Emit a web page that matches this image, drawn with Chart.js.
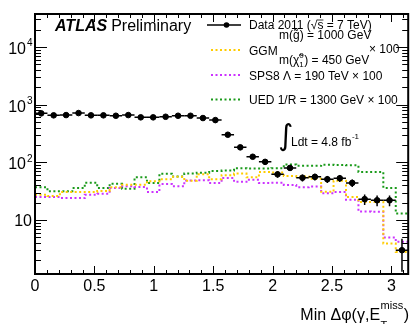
<!DOCTYPE html>
<html>
<head>
<meta charset="utf-8">
<script src="https://cdn.jsdelivr.net/npm/chart.js@4.4.1/dist/chart.umd.min.js"></script>
<style>
html, body { margin: 0; padding: 0; background: #fff; }
canvas { display: block; }
</style>
</head>
<body>
<canvas id="myChart" width="412" height="324"></canvas>
<script>
// 30 bins between 0 and pi
const nBins = 30;
const xMax = Math.PI;

const dataCounts = [707, 653, 660, 715, 653, 653, 642, 660, 603, 603,
                    617, 642, 642, 586, 540, 301, 182, 125, 102, 62,
                    80, 54, 56, 51, 53, 44, 23, 22, 22, 3];
const ggmValues = [27.4, 26, 30.5, 30.5, 30.5, 32, 37, 41, 41, 47,
                   51, 56, 48, 62, 51, 60, 64, 55, 68, 67,
                   58, 57, 52, 31, 48, 25, 20.5, 20.5, 3.9, 2.8];
const sps8Values = [25, 25, 24, 24, 27.4, 28.5, 35.8, 38.4, 37.2, 30.6,
                    42, 38.5, 48.5, 49, 44, 53.5, 46, 50, 44, 44.5,
                    40.5, 37, 38, 29, 30.5, 22.5, 14, 13.9, 5, 4.2];
const uedValues = [37, 31.4, 31.4, 35.8, 44.3, 35.8, 42.6, 35, 55, 43.8,
                   63.5, 57, 64, 66, 71, 72, 79, 78, 78, 79,
                   92, 87, 87, 91, 90, 89, 68, 68, 36, 13];

const xTicks = [0, 0.5, 1, 1.5, 2, 2.5, 3];
const xTickLabels = ["0", "0.5", "1", "1.5", "2", "2.5", "3"];
const yExponents = [1, 2, 3, 4];

const binWidth = xMax / nBins;
const dataPoints = dataCounts.map((v, i) => ({ x: (i + 0.5) * binWidth, y: v }));

function histPoints(values) {
    const pts = values.map((v, i) => ({ x: i * binWidth, y: v }));
    pts.push({ x: xMax, y: values[values.length - 1] });
    return pts;
}

const colGGM = "#ffcc00";
const colSPS8 = "#cc33ff";
const colUED = "#1a9a1a";
const FONT = "'Liberation Sans', Arial, Helvetica, sans-serif";

function histDataset(values, color) {
    return {
        data: histPoints(values),
        borderColor: color,
        borderWidth: 2,
        borderDash: [2, 2.5],
        stepped: true,
        pointRadius: 0,
        fill: false
    };
}

function txt(ctx, s, x, y, size, opts) {
    opts = opts || {};
    ctx.font = (opts.style || "") + " " + size + "px " + (opts.family || FONT);
    ctx.textAlign = opts.align || "left";
    ctx.textBaseline = "alphabetic";
    ctx.fillStyle = "#000";
    ctx.fillText(s, x, y);
    return ctx.measureText(s).width;
}

const atlasPlugin = {
    id: "atlas",
    afterDatasetsDraw(chart) {
        const ctx = chart.ctx;
        const xs = chart.scales.x, ys = chart.scales.y;
        // error bars
        ctx.save();
        ctx.strokeStyle = "#000";
        ctx.lineWidth = 1.5;
        dataCounts.forEach((v, i) => {
            const xc = xs.getPixelForValue((i + 0.5) * binWidth);
            const yc = ys.getPixelForValue(v);
            const e = Math.sqrt(v);
            ctx.beginPath();
            ctx.moveTo(xs.getPixelForValue(i * binWidth), yc);
            ctx.lineTo(xs.getPixelForValue((i + 1) * binWidth), yc);
            ctx.moveTo(xc, ys.getPixelForValue(v + e));
            ctx.lineTo(xc, Math.min(ys.getPixelForValue(Math.max(v - e, 1e-3)), chart.chartArea.bottom));
            ctx.stroke();
        });
        ctx.restore();
    },
    afterDraw(chart) {
        const ctx = chart.ctx;
        const a = chart.chartArea;
        const xs = chart.scales.x, ys = chart.scales.y;
        ctx.save();
        ctx.strokeStyle = "#000";
        ctx.lineWidth = 1;
        ctx.beginPath();
        // x ticks every 0.1, major every 0.5
        for (let k = 0; k * 0.1 <= xMax; k++) {
            const px = Math.round(xs.getPixelForValue(k * 0.1)) + 0.5;
            const len = k % 5 === 0 ? 8 : 4;
            ctx.moveTo(px, a.bottom); ctx.lineTo(px, a.bottom - len);
            ctx.moveTo(px, a.top); ctx.lineTo(px, a.top + len);
        }
        // y log ticks
        for (let d = 0; d <= 5; d++) {
            for (let m = 1; m <= 9; m++) {
                const v = m * Math.pow(10, d);
                if (v < ys.min || v > ys.max) continue;
                const py = Math.round(ys.getPixelForValue(v)) + 0.5;
                const len = m === 1 ? 12 : 6;
                ctx.moveTo(a.left, py); ctx.lineTo(a.left + len, py);
                ctx.moveTo(a.right, py); ctx.lineTo(a.right - len, py);
            }
        }
        ctx.stroke();
        // frame
        ctx.lineWidth = 2;
        ctx.strokeRect(a.left, a.top, a.right - a.left, a.bottom - a.top);

        // x tick labels
        xTicks.forEach((v, i) => {
            txt(ctx, xTickLabels[i], xs.getPixelForValue(v), 291, 16, { align: "center" });
        });
        // y tick labels
        yExponents.forEach(e => {
            const py = ys.getPixelForValue(Math.pow(10, e));
            if (e === 1) {
                txt(ctx, "10", 32, py + 5.5, 16, { align: "right" });
            } else {
                txt(ctx, "10", 26, py + 7, 16, { align: "right" });
                txt(ctx, String(e), 27, py - 0.5, 10);
            }
        });

        // x axis title
        ctx.font = "11px " + FONT;
        const wSup = ctx.measureText("miss").width;
        ctx.font = "16px " + FONT;
        const wPar = ctx.measureText(")").width;
        const wMain = ctx.measureText("Min \u0394\u03c6(\u03b3,E").width;
        const xEnd = 409;
        const x0 = xEnd - wPar - wSup - wMain - 1;
        txt(ctx, "Min \u0394\u03c6(\u03b3,E", x0, 319.5, 16);
        txt(ctx, "miss", x0 + wMain + 0.5, 309, 11);
        txt(ctx, "T", x0 + wMain + 0.5, 329, 11);
        txt(ctx, ")", xEnd - wPar, 319.5, 16);

        // ATLAS Preliminary
        const wA = txt(ctx, "ATLAS", 55, 31, 16, { style: "italic bold" });
        txt(ctx, "Preliminary", 55 + wA + 4, 31, 16);

        // legend: data
        ctx.lineWidth = 1.5;
        ctx.beginPath();
        ctx.moveTo(207, 25); ctx.lineTo(241, 25);
        ctx.stroke();
        ctx.beginPath();
        ctx.arc(226.5, 25, 2.8, 0, 2 * Math.PI);
        ctx.fillStyle = "#000";
        ctx.fill();
        let x = 249;
        x += txt(ctx, "Data 2011 (", x, 29, 12);
        x += txt(ctx, "\u221a", x, 29, 12);
        const ws = txt(ctx, "s", x, 29, 12);
        ctx.lineWidth = 0.8;
        ctx.beginPath();
        ctx.moveTo(x - 0.5, 20); ctx.lineTo(x + ws, 20);
        ctx.stroke();
        x += ws;
        txt(ctx, " = 7 TeV)", x, 29, 12);

        // legend: dotted lines
        [[colGGM, 50], [colSPS8, 75], [colUED, 99.5]].forEach(([c, y]) => {
            ctx.save();
            ctx.strokeStyle = c;
            ctx.lineWidth = 2;
            ctx.setLineDash([2, 2.5]);
            ctx.beginPath();
            ctx.moveTo(211, y); ctx.lineTo(241, y);
            ctx.stroke();
            ctx.restore();
        });
        txt(ctx, "GGM", 249, 55, 12);
        txt(ctx, "m(g\u0303) = 1000 GeV", 279, 39, 12);
        let xc = 279;
        xc += txt(ctx, "m(\u03c7\u0303", xc, 63.5, 12);
        txt(ctx, "0", xc, 58, 8);
        const w1 = txt(ctx, "1", xc, 66.5, 8);
        xc += w1 + 0.5;
        txt(ctx, ") = 450 GeV", xc, 63.5, 12);
        txt(ctx, "\u00d7 100", 369, 53, 12);
        txt(ctx, "SPS8 \u039b = 190 TeV \u00d7 100", 249, 79.5, 12);
        txt(ctx, "UED 1/R = 1300 GeV \u00d7 100", 249, 104, 12);

        // luminosity
        txt(ctx, "\u222b", 278, 145, 29, { family: "'DejaVu Sans', sans-serif" });
        const wl = txt(ctx, "Ldt = 4.8 fb", 291, 146, 12);
        txt(ctx, "-1", 291 + wl + 0.5, 139, 8);
        ctx.restore();
    }
};

new Chart("myChart", {
    type: "line",
    data: {
        datasets: [
            {
                data: dataPoints,
                showLine: false,
                pointRadius: 2.8,
                pointHoverRadius: 2.8,
                pointBackgroundColor: "#000",
                pointBorderColor: "#000",
                borderColor: "#000"
            },
            histDataset(ggmValues, colGGM),
            histDataset(sps8Values, colSPS8),
            histDataset(uedValues, colUED)
        ]
    },
    options: {
        responsive: false,
        animation: false,
        layout: { padding: { left: 35, right: 2, top: 14, bottom: 50 } },
        plugins: {
            legend: { display: false },
            tooltip: { enabled: false }
        },
        scales: {
            x: { type: "linear", min: 0, max: xMax, display: false },
            y: { type: "logarithmic", min: 1.16, max: 37300, display: false }
        }
    },
    plugins: [atlasPlugin]
});
</script>
</body>
</html>
